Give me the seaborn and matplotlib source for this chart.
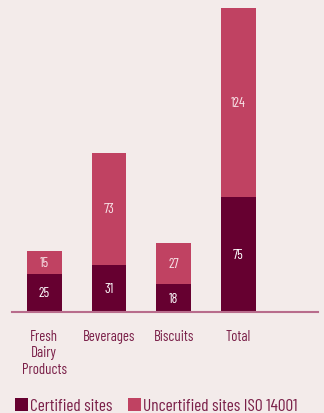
import matplotlib
matplotlib.use("Agg")
import matplotlib.pyplot as plt
import seaborn as sns
import pandas as pd
from matplotlib.patches import Patch
from matplotlib import font_manager
from matplotlib.textpath import TextPath

categories = ["Fresh\nDairy\nProducts", "Beverages", "Biscuits", "Total"]
certified = [25, 31, 18, 75]
uncertified = [15, 73, 27, 124]
series_names = ["Certified sites", "Uncertified sites ISO 14001"]

BG = "#f3ebea"
DARK = "#660030"
PINK = "#c04262"
TEXT = "#7a1f48"

sns.set_theme(style="white")

# candidate narrow fonts (by file name only, cheap)
cands = []
for f in font_manager.fontManager.ttflist:
    low = f.fname.lower().replace("-", "").replace("_", "")
    if ("narrow" in low or "condensed" in low) and not any(
            k in low for k in ["bold", "italic", "oblique", "mono", "light", "thin", "black", "medium", "semi", "extra"]):
        cands.append(f.fname)
cands = sorted(set(cands))[:6]

fallback = font_manager.findfont(font_manager.FontProperties(family="Liberation Sans"))
best, best_ratio = fallback, None
for fn in [fallback] + cands:
    try:
        fp = font_manager.FontProperties(fname=fn)
        w = TextPath((0, 0), "Beverages", size=10, prop=fp).get_extents().width
        h = TextPath((0, 0), "B", size=10, prop=fp).get_extents().height
        r = w / h
        if best_ratio is None or r < best_ratio:
            best_ratio, best = r, fn
    except Exception:
        pass

font_manager.fontManager.addfont(best)
base_fp = font_manager.FontProperties(fname=best)
plt.rcParams["font.family"] = [base_fp.get_name(), "DejaVu Sans"]


def size_for(text, px):
    w = TextPath((0, 0), text, size=10, prop=base_fp).get_extents().width
    return px / (w / 10 * 100 / 72)


tick_fs = min(size_for("Beverages", 51), 11)
leg_fs = min(size_for("Uncertified sites ISO 14001", 162), 12.5)
val_fs = min(size_for("124", 17) * 0.88, 10)
leg_px = leg_fs * 100 / 72

df = pd.DataFrame({"cat": categories, "cert": certified, "unc": uncertified})
df["total"] = df["cert"] + df["unc"]

fig = plt.figure(figsize=(3.24, 4.14), dpi=100, facecolor=BG)
ax = fig.add_axes([0.037, 0.244, 0.944, 0.738])
ax.set_facecolor(BG)

sns.barplot(data=df, x="cat", y="total", color=PINK, width=0.54, saturation=1, ax=ax)
sns.barplot(data=df, x="cat", y="cert", color=DARK, width=0.54, saturation=1, ax=ax)
for p in ax.patches:
    p.set_edgecolor("none")

for i, (c, u) in enumerate(zip(certified, uncertified)):
    ax.text(i, c / 2, str(c), ha="center", va="center", color="white", fontsize=val_fs)
    ax.text(i, c + u / 2, str(u), ha="center", va="center", color="#f8e4e8", fontsize=val_fs)

ax.set_xlim(-0.5, 4.23)
ax.set_ylim(0, 200)
ax.set_xlabel("")
ax.set_ylabel("")
ax.set_yticks([])
for s in ["top", "right", "left"]:
    ax.spines[s].set_visible(False)
ax.spines["bottom"].set_color("#b86c8c")
ax.spines["bottom"].set_linewidth(1.5)
ax.tick_params(axis="x", length=0, pad=12, labelsize=tick_fs, labelcolor=TEXT)
for t in ax.get_xticklabels():
    t.set_linespacing(1.25)
    t.set_va("top")

handles = [Patch(facecolor=DARK, edgecolor="none"), Patch(facecolor=PINK, edgecolor="none")]
fig.legend(handles, series_names, loc="lower left", bbox_to_anchor=(0.01, -0.03), ncol=2,
           frameon=False, fontsize=leg_fs, handlelength=13 / leg_px, handleheight=13 / leg_px,
           handletextpad=2 / leg_px, columnspacing=15 / leg_px, labelcolor=TEXT,
           borderaxespad=0.3)

fig.savefig("out.png", dpi=100, facecolor=BG)
